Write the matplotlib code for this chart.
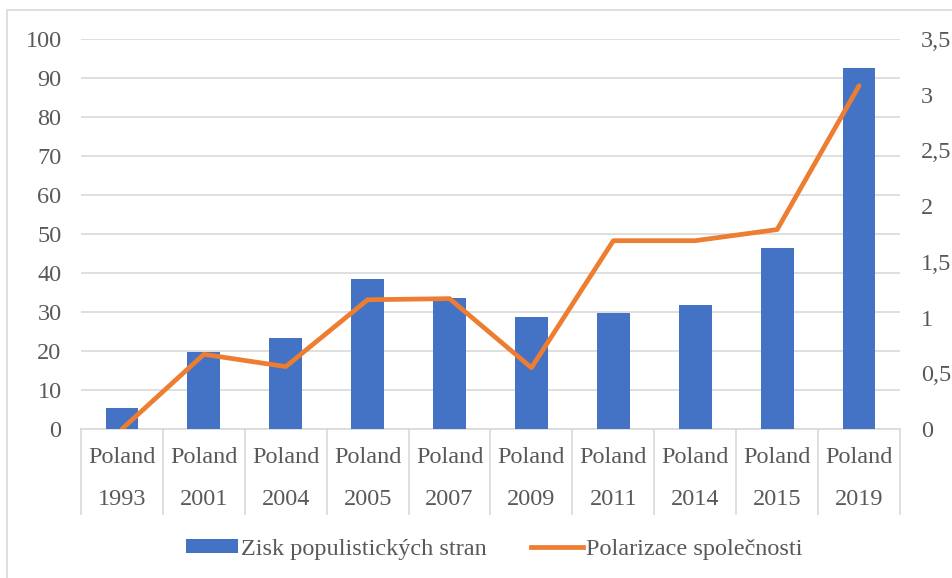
import matplotlib.pyplot as plt
import numpy as np
from matplotlib.patches import Rectangle
from matplotlib.lines import Line2D
from matplotlib.patches import Patch
import matplotlib.transforms as mtransforms

# data
country = ['Poland'] * 10
years = ['1993', '2001', '2004', '2005', '2007', '2009', '2011', '2014', '2015', '2019']
populist_gain = [5.4, 19.7, 23.3, 38.5, 33.6, 28.8, 29.8, 31.7, 46.3, 92.5]
polarization = [0.0, 0.67, 0.56, 1.16, 1.17, 0.55, 1.69, 1.69, 1.79, 3.08]

bar_color = '#4472C4'
line_color = '#ED7D31'
grid_color = '#D9D9D9'
text_color = '#595959'
fs = 17.5
font = 'Liberation Serif'

plt.rcParams['font.family'] = 'serif'
plt.rcParams['font.serif'] = ['Liberation Serif', 'DejaVu Serif']

fig = plt.figure(figsize=(9.53, 5.78), dpi=100)
ax = fig.add_axes([81/953, 1-429/578, (900-81)/953, 390/578])

# outer chart border
fig.patches.append(Rectangle((7/953, -0.1), 1.2, 1 - 10/578 + 0.1, transform=fig.transFigure,
                             fill=False, edgecolor=grid_color, linewidth=1.2))

ind = np.arange(len(years))
ax.bar(ind, populist_gain, width=0.4, color=bar_color, zorder=3)
ax.set_xlim(-0.5, len(years) - 0.5)
ax.set_ylim(0, 100)
ax.set_yticks(np.arange(0, 101, 10))
ax.yaxis.grid(True, color=grid_color, linewidth=1.2, zorder=0)
ax.set_axisbelow(True)
ax.set_xticks([])
for s in ['top', 'left', 'right']:
    ax.spines[s].set_visible(False)
ax.spines['bottom'].set_color(grid_color)
ax.spines['bottom'].set_linewidth(1.2)
ax.tick_params(axis='y', length=0, pad=14, labelsize=fs, labelcolor=text_color)
for lab in ax.get_yticklabels():
    lab.set_fontfamily(font)

# two level category labels with separators
trans = mtransforms.blended_transform_factory(ax.transData, ax.transAxes)
for b in np.arange(-0.5, len(years)):
    ax.plot([b, b], [0, -0.218], transform=trans, color=grid_color, lw=1.2, clip_on=False)
for i in ind:
    ax.text(i, -0.072, country[i], transform=trans, ha='center', va='center',
            fontsize=fs, color=text_color, fontfamily=font)
    ax.text(i, -0.182, years[i], transform=trans, ha='center', va='center',
            fontsize=fs, color=text_color, fontfamily=font)

ax2 = ax.twinx()
ax2.plot(ind, polarization, color=line_color, linewidth=3.4, solid_capstyle='round',
         solid_joinstyle='round', zorder=4)
ax2.set_ylim(0, 3.5)
ticks2 = np.arange(0, 3.51, 0.5)
ax2.set_yticks(ticks2)
ax2.set_yticklabels([('%g' % t).replace('.', ',') for t in ticks2], fontfamily=font)
for s in ['top', 'left', 'right', 'bottom']:
    ax2.spines[s].set_visible(False)
ax2.tick_params(axis='y', length=0, pad=15, labelsize=fs, labelcolor=text_color)

handles = [Patch(facecolor=bar_color, label='Zisk populistických stran'),
           Line2D([], [], color=line_color, linewidth=3.4, label='Polarizace společnosti')]
fig.legend(handles=handles, loc='center', bbox_to_anchor=(494/953, 1-549/578), ncol=2,
           frameon=False, labelcolor=text_color, handlelength=2.15,
           handleheight=0.48, handletextpad=0.12, columnspacing=1.8,
           prop={'family': font, 'size': fs})

fig.savefig('out.png', dpi=100)
